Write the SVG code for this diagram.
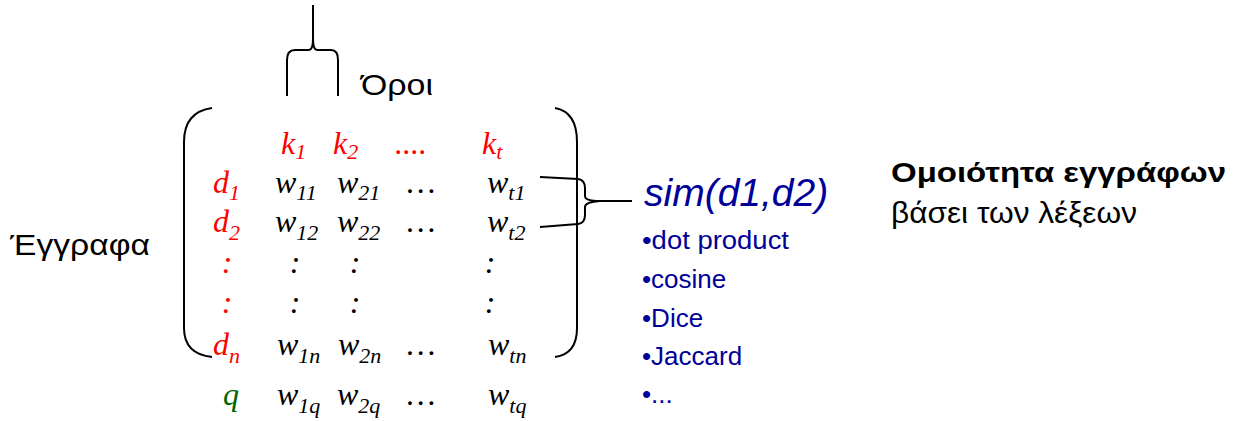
<svg xmlns="http://www.w3.org/2000/svg" width="1236" height="421" viewBox="0 0 1236 421">
<style>
.m{font-family:"Liberation Serif",serif;font-style:italic;font-size:32px;fill:#000}
.r{fill:#ff0000}
.g{fill:#006600}
.s{font-size:22px}
.sans{font-family:"Liberation Sans",Arial,sans-serif;fill:#000}
.blue{font-family:"Liberation Sans",Arial,sans-serif;fill:#000099}
.ln{fill:none;stroke:#000;stroke-width:2}
</style>
<rect width="1236" height="421" fill="#fff"/>
<g id="connectors">
<path class="ln" d="M313 5 V38 Q313 50 309 50 H295 Q287 50 287 60 V96"/>
<path class="ln" d="M313 38 Q313 50 317 50 H331 Q338 50 338 60 V96"/>
<path class="ln" d="M540 177 L578 179 Q585 180 585 188 V196 Q585 201 600 201 H632"/>
<path class="ln" d="M540 227 L578 224 Q585 223 585 215 V207 Q585 202 600 201"/>
</g>
<g id="matrix-brackets">
<path class="ln" d="M212 108 Q184 112 184 142 V328 Q184 354 212 357"/>
<path class="ln" d="M555 108 Q577 112 577 142 V328 Q577 354 555 357"/>
</g>
<g id="terms-label"><text class="sans" x="361" y="95" font-size="29" textLength="72" lengthAdjust="spacingAndGlyphs">Όροι</text></g>
<g id="docs-label"><text class="sans" x="10" y="255" font-size="30" textLength="140" lengthAdjust="spacingAndGlyphs">Έγγραφα</text></g>
<g id="matrix">
<text class="m r" x="281" y="154">k<tspan class="s" dy="5">1</tspan></text>
<text class="m r" x="333" y="154">k<tspan class="s" dy="5">2</tspan></text>
<text class="m r" x="395" y="154">....</text>
<text class="m r" x="482" y="154">k<tspan class="s" dy="5">t</tspan></text>

<text class="m r" x="213" y="193">d<tspan class="s" dy="7">1</tspan></text>
<text class="m" x="275" y="193">w<tspan class="s" dy="7">11</tspan></text>
<text class="m" x="337" y="193">w<tspan class="s" dy="7">21</tspan></text>
<text class="m" x="407" y="193">…</text>
<text class="m" x="487" y="193">w<tspan class="s" dy="7">t1</tspan></text>

<text class="m r" x="213" y="232">d<tspan class="s" dy="8">2</tspan></text>
<text class="m" x="275" y="232">w<tspan class="s" dy="8">12</tspan></text>
<text class="m" x="337" y="232">w<tspan class="s" dy="8">22</tspan></text>
<text class="m" x="407" y="232">…</text>
<text class="m" x="487" y="232">w<tspan class="s" dy="8">t2</tspan></text>

<g text-anchor="middle">
<text class="m r" x="227" y="273">:</text>
<text class="m" x="295" y="273">:</text>
<text class="m" x="355" y="273">:</text>
<text class="m" x="490" y="273">:</text>
<text class="m r" x="227" y="313">:</text>
<text class="m" x="295" y="313">:</text>
<text class="m" x="355" y="313">:</text>
<text class="m" x="490" y="313">:</text>
</g>

<text class="m r" x="213" y="355">d<tspan class="s" dy="8">n</tspan></text>
<text class="m" x="277" y="355">w<tspan class="s" dy="8">1n</tspan></text>
<text class="m" x="338" y="355">w<tspan class="s" dy="8">2n</tspan></text>
<text class="m" x="407" y="355">…</text>
<text class="m" x="488" y="355">w<tspan class="s" dy="8">tn</tspan></text>

<text class="m g" x="223" y="405">q</text>
<text class="m" x="277" y="405">w<tspan class="s" dy="8">1q</tspan></text>
<text class="m" x="337" y="405">w<tspan class="s" dy="8">2q</tspan></text>
<text class="m" x="407" y="405">…</text>
<text class="m" x="488" y="405">w<tspan class="s" dy="8">tq</tspan></text>
</g>
<g id="sim">
<text class="blue" x="644" y="206" font-size="39" font-style="italic">sim(d1,d2)</text>
<g font-size="26">
<text class="blue" x="642" y="249" textLength="147" lengthAdjust="spacingAndGlyphs">•dot product</text>
<text class="blue" x="642" y="288">•cosine</text>
<text class="blue" x="642" y="327">•Dice</text>
<text class="blue" x="642" y="365">•Jaccard</text>
<text class="blue" x="642" y="403">•...</text>
</g>
</g>
<g id="similarity-note">
<text class="sans" x="891" y="182" font-size="28" font-weight="bold" textLength="335" lengthAdjust="spacingAndGlyphs">Ομοιότητα εγγράφων</text>
<text class="sans" x="891" y="223" font-size="29" textLength="246" lengthAdjust="spacingAndGlyphs">βάσει των λέξεων</text>
</g>
</svg>
